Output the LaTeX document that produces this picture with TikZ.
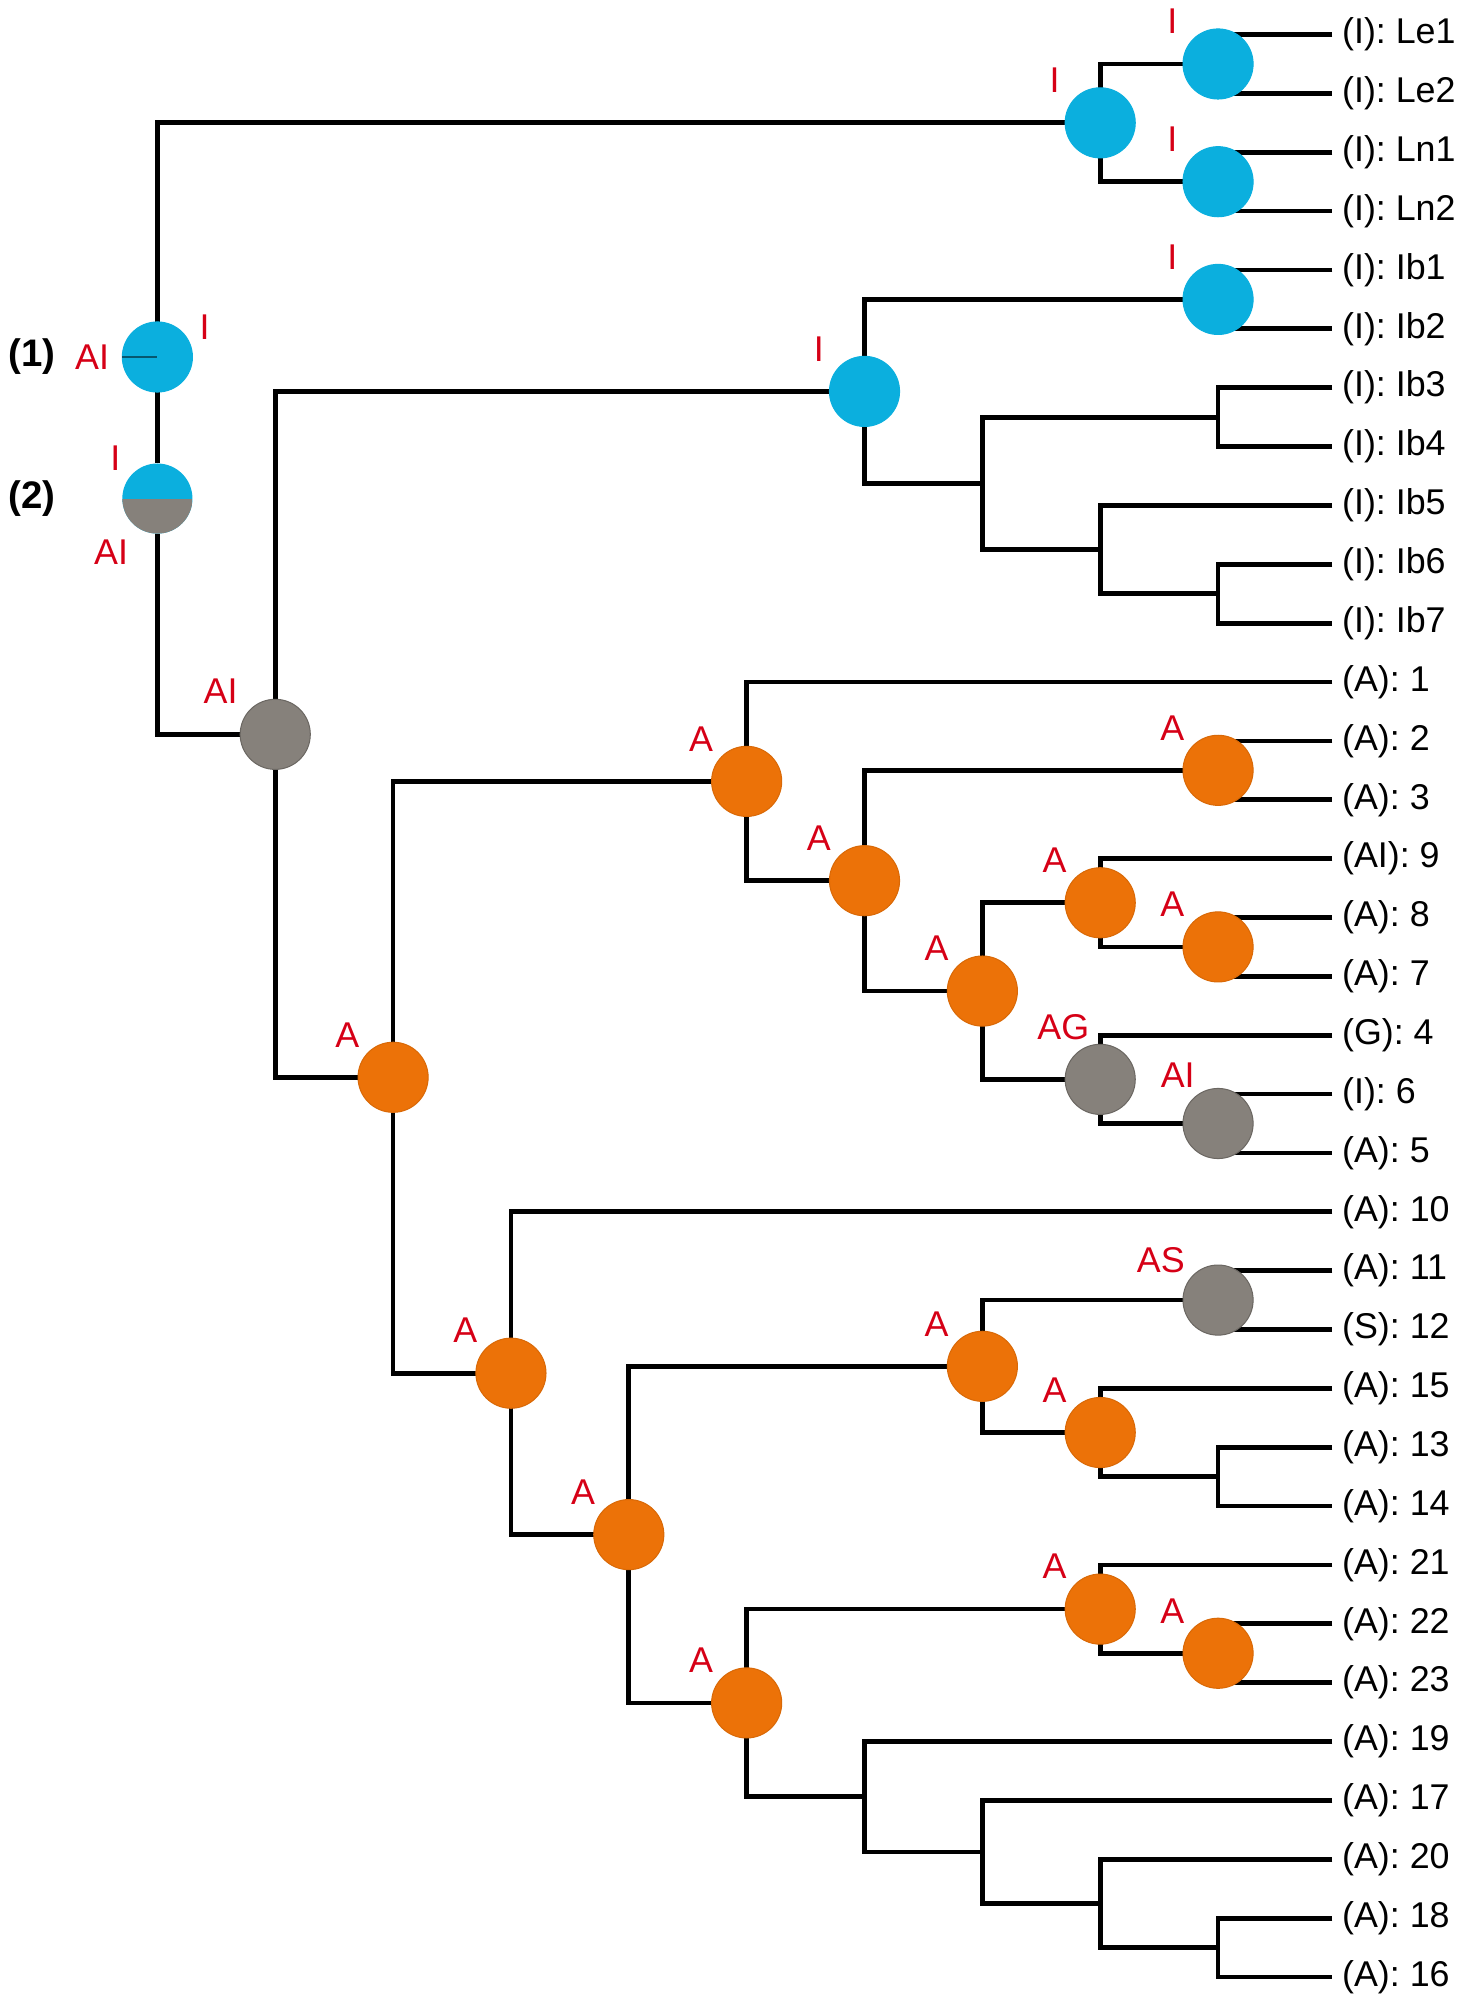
\documentclass[tikz,border=0pt]{standalone}
\usepackage{fontspec}
\setmainfont{Liberation Sans}
\usetikzlibrary{positioning}
\usetikzlibrary{backgrounds}

\definecolor{stateblue}{RGB}{11,175,222}
\definecolor{stateorange}{RGB}{236,114,8}
\definecolor{stategray}{RGB}{134,129,123}
\definecolor{tagred}{RGB}{214,0,22}

\newcommand{\leaffont}{\fontsize{14}{16}\selectfont}
\newcommand{\cladefont}{\fontsize{15}{17}\selectfont\bfseries}

\tikzset {
  branch/.style = {
    draw = black,
    line width = 1.85pt
  }
}
\tikzset {
  anc state/.style = {
    circle,
    minimum size = 27.4pt,
    inner sep = 0,
    outer sep = 0,
    line width = 0.4pt
  },
  % reconstructed ancestral states
  state I/.style = {
    anc state,
    fill = stateblue,
    draw = stateblue
  },
  state A/.style = {
    anc state,
    fill = stateorange,
    draw = stateorange!92!black
  },
  state X/.style = {
    anc state,
    fill = stategray,
    draw = stategray!80!black
  },
  % red state name next to a node
  state tag/.style = {
    text = tagred,
    font = \leaffont,
    anchor = center,
    inner sep = 0
  },
  tagged/.style = {
    label = {[state tag, label distance = 10.7pt]137.5:#1}
  },
  % terminal taxon
  leaf/.style = {
    anchor = west,
    inner sep = 3.6pt,
    font = \leaffont
  },
  clade/.style = {
    inner sep = 0,
    font = \cladefont
  }
}

\begin{document}
\begin{tikzpicture}[x=46.05pt, y=23pt]
    \useasboundingbox (-1.3355,0.587) rectangle (11.097,-33.391);

    % taxa
    \node[leaf] (Le1) at (9.97,0) {(I): Le1};
    \node[leaf] (Le2) at (9.97,-1) {(I): Le2};
    \node[leaf] (Ln1) at (9.97,-2) {(I): Ln1};
    \node[leaf] (Ln2) at (9.97,-3) {(I): Ln2};
    \node[leaf] (Ib1) at (9.97,-4) {(I): Ib1};
    \node[leaf] (Ib2) at (9.97,-5) {(I): Ib2};
    \node[leaf] (Ib3) at (9.97,-6) {(I): Ib3};
    \node[leaf] (Ib4) at (9.97,-7) {(I): Ib4};
    \node[leaf] (Ib5) at (9.97,-8) {(I): Ib5};
    \node[leaf] (Ib6) at (9.97,-9) {(I): Ib6};
    \node[leaf] (Ib7) at (9.97,-10) {(I): Ib7};
    \node[leaf] (t1) at (9.97,-11) {(A): 1};
    \node[leaf] (t2) at (9.97,-12) {(A): 2};
    \node[leaf] (t3) at (9.97,-13) {(A): 3};
    \node[leaf] (t9) at (9.97,-14) {(AI): 9};
    \node[leaf] (t8) at (9.97,-15) {(A): 8};
    \node[leaf] (t7) at (9.97,-16) {(A): 7};
    \node[leaf] (t4) at (9.97,-17) {(G): 4};
    \node[leaf] (t6) at (9.97,-18) {(I): 6};
    \node[leaf] (t5) at (9.97,-19) {(A): 5};
    \node[leaf] (t10) at (9.97,-20) {(A): 10};
    \node[leaf] (t11) at (9.97,-21) {(A): 11};
    \node[leaf] (t12) at (9.97,-22) {(S): 12};
    \node[leaf] (t15) at (9.97,-23) {(A): 15};
    \node[leaf] (t13) at (9.97,-24) {(A): 13};
    \node[leaf] (t14) at (9.97,-25) {(A): 14};
    \node[leaf] (t21) at (9.97,-26) {(A): 21};
    \node[leaf] (t22) at (9.97,-27) {(A): 22};
    \node[leaf] (t23) at (9.97,-28) {(A): 23};
    \node[leaf] (t19) at (9.97,-29) {(A): 19};
    \node[leaf] (t17) at (9.97,-30) {(A): 17};
    \node[leaf] (t20) at (9.97,-31) {(A): 20};
    \node[leaf] (t18) at (9.97,-32) {(A): 18};
    \node[leaf] (t16) at (9.97,-33) {(A): 16};

    % I clade
    \node[state I, tagged=I] (Le) at (9,-0.5) {};
    \node[state I, tagged=I] (Ln) at (9,-2.5) {};
    \node[state I, tagged=I] (LeLn) at (8,-1.5) {};
    \node[state I, tagged=I] (Ib12) at (9,-4.5) {};
    \coordinate (Ib34) at (9,-6.5);
    \coordinate (Ib67) at (9,-9.5);
    \coordinate (Ib57) at (8,-8.75);
    \coordinate (Ib37) at (7,-7.625);
    \node[state I, tagged=I] (Ib) at (6,-6.0625) {};

    % A clade
    \node[state A, tagged=A] (c23) at (9,-12.5) {};
    \node[state A, tagged=A] (c78) at (9,-15.5) {};
    \node[state A, tagged=A] (c789) at (8,-14.75) {};
    \node[state X, label={[state tag, label distance=10.8pt]130.9:AI}] (c56) at (9,-18.5) {};
    \node[state X, label={[state tag, label distance=11.4pt]125.3:AG}] (c456) at (8,-17.75) {};
    \node[state A, tagged=A] (c49) at (7,-16.25) {};
    \node[state A, tagged=A] (c29) at (6,-14.375) {};
    \node[state A, tagged=A] (c19) at (5,-12.6875) {};
    \node[state X, label={[state tag, label distance=13.6pt]145.4:AS}] (c1112) at (9,-21.5) {};
    \coordinate (c1314) at (9,-24.5);
    \node[state A, tagged=A] (c1315) at (8,-23.75) {};
    \node[state A, tagged=A] (c1115) at (7,-22.625) {};
    \node[state A, tagged=A] (c2223) at (9,-27.5) {};
    \node[state A, tagged=A] (c2123) at (8,-26.75) {};
    \coordinate (c1816) at (9,-32.5);
    \coordinate (c2016) at (8,-31.75);
    \coordinate (c1716) at (7,-30.875);
    \coordinate (c1916) at (6,-29.9375);
    \node[state A, tagged=A] (c1623) at (5,-28.34375) {};
    \node[state A, tagged=A] (c1123) at (4,-25.484375) {};
    \node[state A, tagged=A] (c1023) at (3,-22.7421875) {};
    \node[state A, tagged=A] (cA) at (2,-17.71484375) {};
    \node[state X, label={[state tag, label distance=13.4pt]142.5:AI}] (AI0) at (1,-11.888671875) {};

    % root, two reconstructions
    \node[state I,
      label={[state tag, label distance=11.8pt]180:AI},
      label={[state tag, label distance=8pt]32.8:I}] (s1) at (0,-5.478) {};
    \node[anc state, fill=stateblue,
      path picture={\fill[stategray] (path picture bounding box.west) rectangle (path picture bounding box.south east);},
      label={[state tag, label distance=9.1pt]136.2:I},
      label={[state tag, label distance=13.9pt]229.6:AI}] (s2) at (0,-7.883) {};
    \draw[line width=0.5pt, stateblue!50!black] (s1.west) -- (s1.center);
    \node[clade] (one) [left=26pt of s1] {(1)};
    \node[clade] (two) [left=26pt of s2] {(2)};

    \begin{scope}[on background layer]
    \draw[branch] (Le1.west) -| (Le.center) |- (Le2.west);
    \draw[branch] (Ln1.west) -| (Ln.center) |- (Ln2.west);
    \draw[branch] (Le) -| (LeLn.center) |- (Ln);
    \draw[branch] (Ib1.west) -| (Ib12.center) |- (Ib2.west);
    \draw[branch] (Ib3.west) -| (Ib34) |- (Ib4.west);
    \draw[branch] (Ib6.west) -| (Ib67) |- (Ib7.west);
    \draw[branch] (Ib5.west) -| (Ib57) |- (Ib67);
    \draw[branch] (Ib34) -| (Ib37) |- (Ib57);
    \draw[branch] (Ib12) -| (Ib.center) |- (Ib37);

    \draw[branch] (t2.west) -| (c23.center) |- (t3.west);
    \draw[branch] (t8.west) -| (c78.center) |- (t7.west);
    \draw[branch] (t9.west) -| (c789.center) |- (c78);
    \draw[branch] (t6.west) -| (c56.center) |- (t5.west);
    \draw[branch] (t4.west) -| (c456.center) |- (c56);
    \draw[branch] (c789) -| (c49.center) |- (c456);
    \draw[branch] (c23) -| (c29.center) |- (c49);
    \draw[branch] (t1.west) -| (c19.center) |- (c29);

    \draw[branch] (t11.west) -| (c1112.center) |- (t12.west);
    \draw[branch] (t13.west) -| (c1314) |- (t14.west);
    \draw[branch] (t15.west) -| (c1315.center) |- (c1314);
    \draw[branch] (c1112) -| (c1115.center) |- (c1315);
    \draw[branch] (t22.west) -| (c2223.center) |- (t23.west);
    \draw[branch] (t21.west) -| (c2123.center) |- (c2223);
    \draw[branch] (t18.west) -| (c1816) |- (t16.west);
    \draw[branch] (t20.west) -| (c2016) |- (c1816);
    \draw[branch] (t17.west) -| (c1716) |- (c2016);
    \draw[branch] (t19.west) -| (c1916) |- (c1716);
    \draw[branch] (c2123) -| (c1623.center) |- (c1916);
    \draw[branch] (c1115) -| (c1123.center) |- (c1623);
    \draw[branch] (t10.west) -| (c1023.center) |- (c1123);
    \draw[branch] (c19) -| (cA.center) |- (c1023);

    \draw[branch] (Ib) -| (AI0.center) |- (cA);
    \draw[branch] (LeLn) -| (s1) -- (s2) |- (AI0);
    \end{scope}
  \end{tikzpicture}
\end{document}
